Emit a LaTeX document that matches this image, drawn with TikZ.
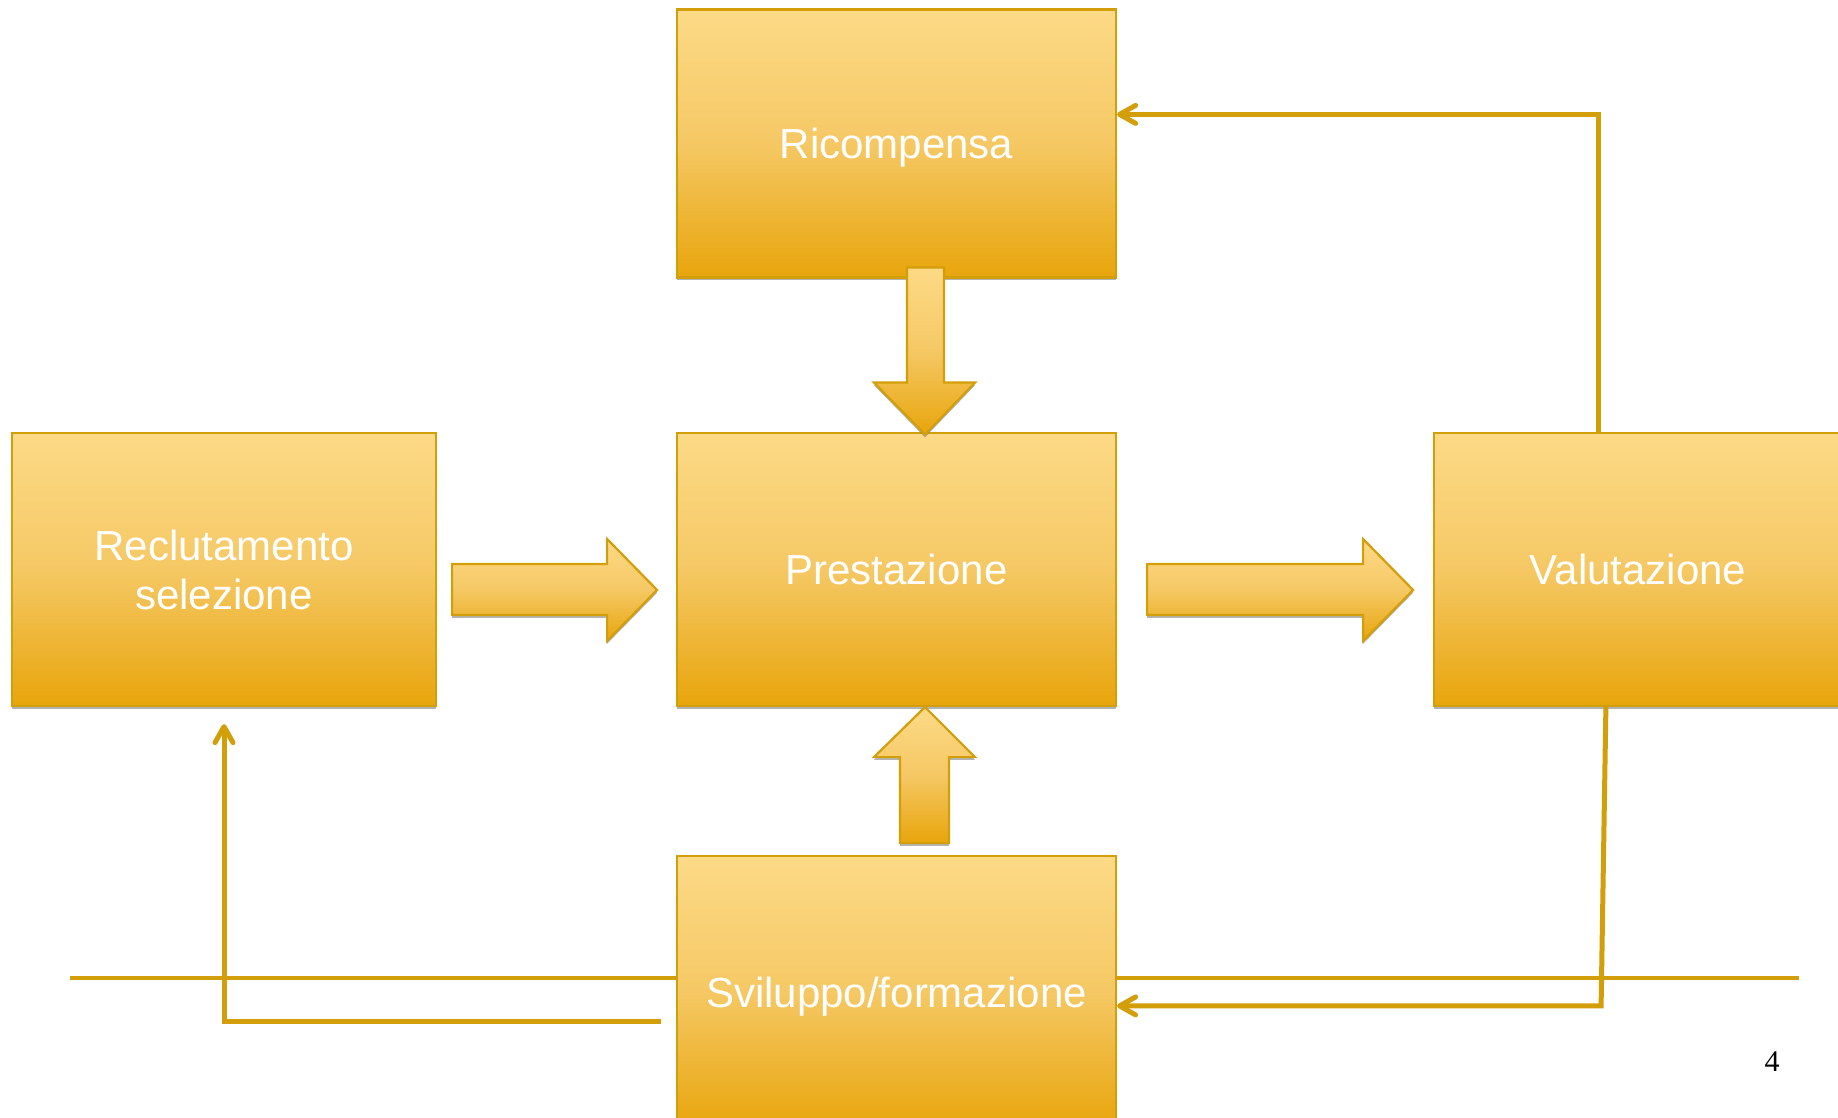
\documentclass[tikz,border=0pt]{standalone}
\usepackage{fontspec}
\setmainfont{Liberation Serif}
\setsansfont{Liberation Sans}
\usetikzlibrary{arrows.meta,calc,shadows}
\definecolor{goldtop}{RGB}{253,218,135}
\definecolor{goldmid}{RGB}{245,200,100}
\definecolor{goldbot}{RGB}{232,165,12}
\definecolor{goldline}{RGB}{210,158,10}
\tikzset{
  box/.style={draw=goldline,line width=1.1pt,top color=goldtop,bottom color=goldbot,middle color=goldmid,
    minimum width=219.5pt,minimum height=136.5pt,inner sep=0pt,text=white,align=center,text depth=0pt,
    font=\sffamily\fontsize{21}{24.5}\selectfont,
    drop shadow={shadow xshift=0pt,shadow yshift=-1.4pt,fill=gray,opacity=0.6}},
  blockarrow/.style={draw=goldline,line width=1.1pt,top color=goldtop,bottom color=goldbot,middle color=goldmid,
    drop shadow={shadow xshift=0pt,shadow yshift=-1.4pt,fill=gray,opacity=0.6}},
  conn/.style={draw=goldline,line width=2.5pt},
  trenn/.style={draw=goldline,line width=1.7pt}
}
\begin{document}
\begin{tikzpicture}[x=0.5pt,y=-0.5pt,>={Straight Barb[length=8pt,width=9pt,round]}]
\useasboundingbox (0,0) rectangle (1838,1118);
% Trennlinie hinter dem unteren Kasten
\draw[trenn] (70,978) -- (1799,978);
% Kaesten
\node[box,minimum height=134pt] (ric) at (896.5,143.5) {Ricompensa};
\node[box] (pre) at (896.5,569.5) {Prestazione};
\node[box,minimum width=212pt] (rec) at (224,569.5) {Reclutamento\\selezione};
\node[box,minimum width=204pt] (val) at (1638,569.5) {Valutazione};
\node[box] (svi) at (896.5,992.5) {Sviluppo/formazione};
% Blockpfeile nach rechts
\draw[blockarrow] ($(rec.east)+(15,-5.5)$) -- ++(155,0) -- ++(0,-25) -- ++(50,51)
  -- ++(-50,51) -- ++(0,-26) -- ++(-155,0) -- cycle;
\draw[blockarrow] ($(pre.east)+(30,-5.5)$) -- ++(216,0) -- ++(0,-25) -- ++(50,51)
  -- ++(-50,51) -- ++(0,-26) -- ++(-216,0) -- cycle;
% Blockpfeil nach unten (Ricompensa -> Prestazione)
\draw[blockarrow] ($(ric.south)+(10.5,-11)$) -- ++(37,0) -- ++(0,115) -- ++(31,0)
  -- ++(-50,52) -- ++(-51,-52) -- ++(33,0) -- cycle;
% Blockpfeil nach oben (Sviluppo -> Prestazione)
\draw[blockarrow] ($(pre.south)+(28.5,0)$) -- ++(50,50) -- ++(-26,0) -- ++(0,86)
  -- ++(-49,0) -- ++(0,-86) -- ++(-26,0) -- cycle;
% Rueckkopplungen
\draw[conn,->] ($(val.north west)+(166,0)$) |- ($(ric.north east)+(0,106)$);
\draw[conn,->] ($(val.south west)+(173,0)$) -- ($(svi.north east)+(484,151)$)
  -- ($(svi.north east)+(0,151)$);
\draw[conn,->] ($(svi.north west)+(-15,167)$) -| ($(rec.south)+(0,17)$);
% Seitenzahl
\node (seite) at (1772,1062) {\fontsize{15}{18}\selectfont 4};
\end{tikzpicture}
\end{document}
